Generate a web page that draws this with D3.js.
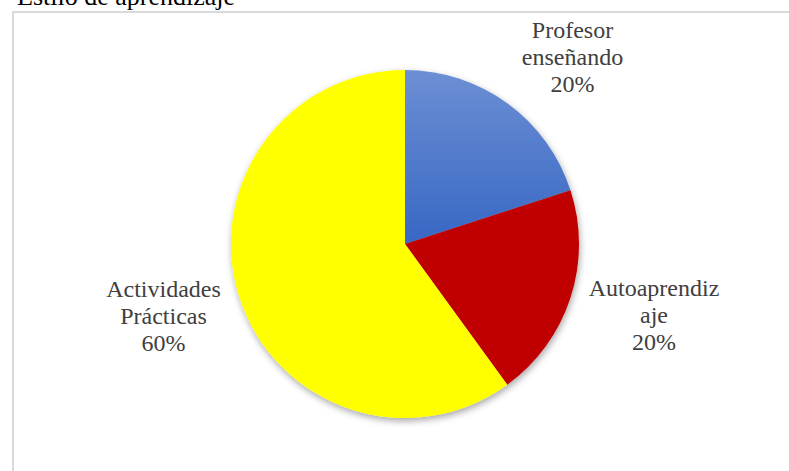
<!DOCTYPE html>
<html>
<head>
<meta charset="utf-8">
<script src="https://cdn.jsdelivr.net/npm/d3@7/dist/d3.min.js"></script>
<style>
  html, body { margin: 0; padding: 0; background: #fff; }
  svg { display: block; }
  text { font-family: "Liberation Serif", "Times New Roman", Times, "DejaVu Serif", serif; }
</style>
</head>
<body>
<svg id="chart" width="789" height="471"></svg>
<script>
const title = "Estilo de aprendizaje";
const categories = ["Profesor enseñando", "Autoaprendizaje", "Actividades Prácticas"];
const values = [20, 20, 60];
const labelLines = [["Profesor", "enseñando", "20%"], ["Autoaprendiz", "aje", "20%"], ["Actividades", "Prácticas", "60%"]];
const colors = ["url(#blueGrad)", "#c00000", "#ffff00"];

const svg = d3.select("#chart");
const W = 789, H = 471;
const cx = 405, cy = 244, r = 174;

const defs = svg.append("defs");
const grad = defs.append("linearGradient").attr("id", "blueGrad")
  .attr("x1", 0).attr("y1", 0).attr("x2", 0).attr("y2", 1);
grad.append("stop").attr("offset", "0%").attr("stop-color", "#6d8fd4");
grad.append("stop").attr("offset", "100%").attr("stop-color", "#3767c4");

const f = defs.append("filter").attr("id", "shadow")
  .attr("x", "-20%").attr("y", "-20%").attr("width", "140%").attr("height", "140%");
f.append("feDropShadow").attr("dx", 1).attr("dy", 3).attr("stdDeviation", 3.5)
  .attr("flood-color", "#000").attr("flood-opacity", 0.35);

// chart border
svg.append("rect").attr("x", 13).attr("y", 12).attr("width", W + 20).attr("height", H + 20)
  .attr("fill", "none").attr("stroke", "#d9d9d9").attr("stroke-width", 2);

// title (partly above the top edge, as in the reference)
svg.append("text").attr("x", 17).attr("y", 5)
  .attr("font-size", 26).attr("fill", "#000").text(title);

const pie = d3.pie().sort(null).value(d => d)(values);
const arc = d3.arc().innerRadius(0).outerRadius(r);

const g = svg.append("g").attr("transform", `translate(${cx},${cy})`);
g.append("g").attr("filter", "url(#shadow)")
  .selectAll("path").data(pie).join("path")
  .attr("d", arc)
  .attr("fill", (d, i) => colors[i]);

const labelPos = [[572.5, 38], [654, 296], [163.5, 297]];
const lh = 27;
labelLines.forEach((lines, i) => {
  const t = svg.append("text")
    .attr("font-size", 24).attr("fill", "#404040").attr("text-anchor", "middle");
  lines.forEach((ln, j) => {
    t.append("tspan").attr("x", labelPos[i][0]).attr("y", labelPos[i][1] + j * lh).text(ln);
  });
});
</script>
</body>
</html>
